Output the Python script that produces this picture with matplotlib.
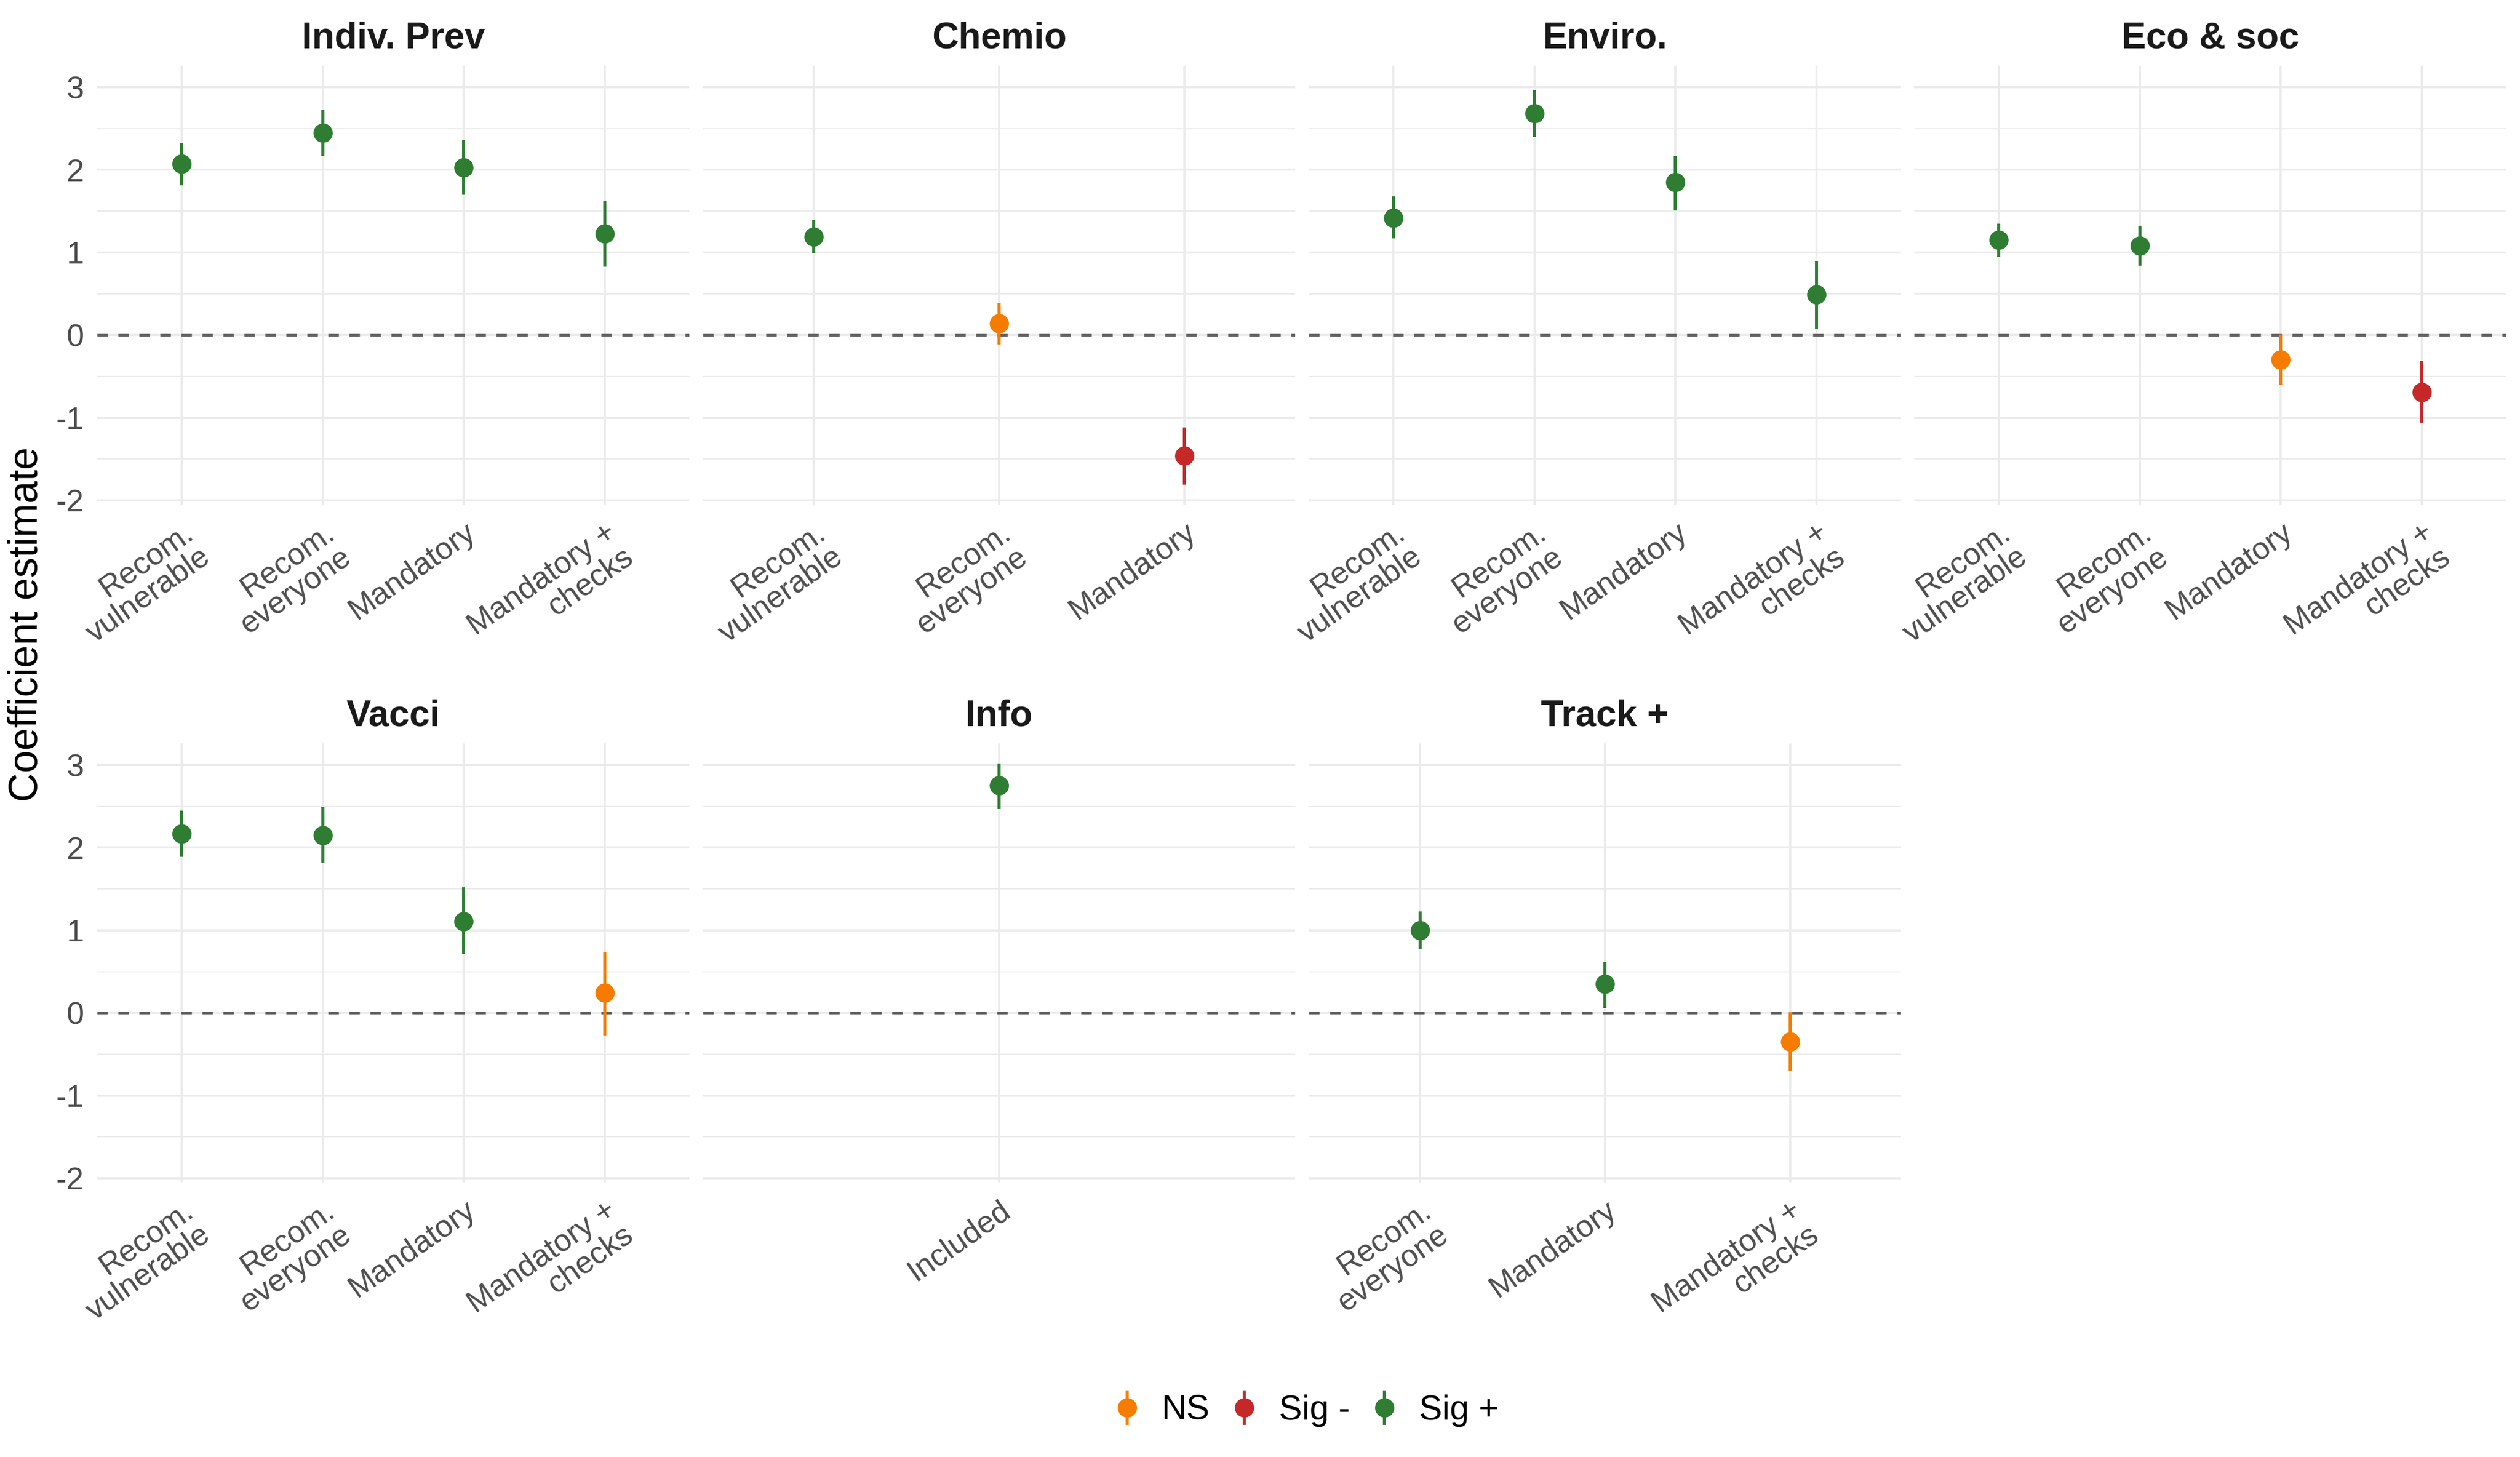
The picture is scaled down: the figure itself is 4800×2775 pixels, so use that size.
import matplotlib
matplotlib.use("Agg")
import matplotlib.pyplot as plt
import pandas as pd

plt.rcParams['font.family'] = ['Liberation Sans', 'DejaVu Sans']
plt.rcParams['axes.unicode_minus'] = False

# long-format data
panel = (['Indiv. Prev'] * 4 + ['Chemio'] * 3 + ['Enviro.'] * 4 + ['Eco & soc'] * 4
         + ['Vacci'] * 4 + ['Info'] + ['Track +'] * 3)
level = (['Recom.\nvulnerable', 'Recom.\neveryone', 'Mandatory', 'Mandatory +\nchecks']
         + ['Recom.\nvulnerable', 'Recom.\neveryone', 'Mandatory']
         + ['Recom.\nvulnerable', 'Recom.\neveryone', 'Mandatory', 'Mandatory +\nchecks']
         + ['Recom.\nvulnerable', 'Recom.\neveryone', 'Mandatory', 'Mandatory +\nchecks']
         + ['Recom.\nvulnerable', 'Recom.\neveryone', 'Mandatory', 'Mandatory +\nchecks']
         + ['Included']
         + ['Recom.\neveryone', 'Mandatory', 'Mandatory +\nchecks'])
estimate = [2.07, 2.45, 2.03, 1.23,
            1.19, 0.14, -1.46,
            1.42, 2.68, 1.85, 0.49,
            1.15, 1.08, -0.30, -0.69,
            2.17, 2.15, 1.11, 0.24,
            2.75,
            1.00, 0.35, -0.35]
lower = [1.81, 2.17, 1.70, 0.83,
         0.99, -0.11, -1.81,
         1.17, 2.40, 1.51, 0.07,
         0.95, 0.84, -0.60, -1.06,
         1.89, 1.82, 0.71, -0.27,
         2.47,
         0.77, 0.06, -0.70]
upper = [2.32, 2.73, 2.36, 1.63,
         1.39, 0.39, -1.12,
         1.68, 2.96, 2.17, 0.90,
         1.35, 1.32, 0.01, -0.31,
         2.45, 2.49, 1.52, 0.74,
         3.02,
         1.23, 0.62, 0.01]
signif = ['Sig +'] * 4 + ['Sig +', 'NS', 'Sig -'] + ['Sig +'] * 4 \
    + ['Sig +', 'Sig +', 'NS', 'Sig -'] + ['Sig +', 'Sig +', 'Sig +', 'NS'] \
    + ['Sig +'] + ['Sig +', 'Sig +', 'NS']

panel_order = ['Indiv. Prev', 'Chemio', 'Enviro.', 'Eco & soc', 'Vacci', 'Info', 'Track +']
sig_levels = ['NS', 'Sig -', 'Sig +']
sig_colors = {'NS': '#F57C00', 'Sig -': '#C62828', 'Sig +': '#2E7D32'}

df = pd.DataFrame({'panel': panel, 'level': level, 'estimate': estimate,
                   'lower': lower, 'upper': upper, 'sig': signif})

W, H = 4800, 2775
fig = plt.figure(figsize=(16, 9.25), dpi=300)

lefts = [185, 1339, 2493, 3646]
tops = [125, 1416]
pw, ph = 1128, 836
ymin = min(lower) - 0.05 * (max(upper) - min(lower))
ymax = max(upper) + 0.05 * (max(upper) - min(lower))

handles = {}
for i, name in enumerate(panel_order):
    row, col = divmod(i, 4)
    ax = fig.add_axes([lefts[col] / W, 1 - (tops[row] + ph) / H, pw / W, ph / H])
    sub = df[df['panel'] == name].reset_index(drop=True)
    n = len(sub)
    ax.set_xlim(-0.6, n - 1 + 0.6)
    ax.set_ylim(ymin, ymax)
    ax.set_yticks([-2, -1, 0, 1, 2, 3])
    ax.set_yticks([-1.5, -0.5, 0.5, 1.5, 2.5], minor=True)
    ax.grid(which='major', color='#EBEBEB', lw=1.0, zorder=0)
    ax.grid(which='minor', axis='y', color='#EBEBEB', lw=0.55, zorder=0)
    ax.set_axisbelow(True)
    for s in ax.spines.values():
        s.set_visible(False)
    ax.tick_params(which='both', length=0)
    ax.tick_params(axis='y', pad=6, labelsize=14.4, labelcolor='#4D4D4D')
    if col != 0:
        ax.set_yticklabels([])
    ax.axhline(0, color='#666666', lw=1.2, ls=(0, (4, 4)), zorder=1)
    for j, r in sub.iterrows():
        c = sig_colors[r['sig']]
        eb = ax.errorbar(j, r['estimate'],
                         yerr=[[r['estimate'] - r['lower']], [r['upper'] - r['estimate']]],
                         fmt='o', color=c, ms=7.8, elinewidth=1.4, capsize=0, zorder=3)
        handles.setdefault(r['sig'], eb)
    ax.set_xticks(range(n))
    ax.set_xticklabels(sub['level'], rotation=35, ha='right', va='top',
                       rotation_mode='anchor', multialignment='right',
                       fontsize=14.2, color='#4D4D4D', linespacing=1.05)
    ax.tick_params(axis='x', pad=6)
    ax.set_title(name, fontsize=16.8, fontweight='bold', color='#1A1A1A', pad=8)

fig.text(51 / W, 1 - 1189 / H, 'Coefficient estimate', rotation=90,
         ha='center', va='center', fontsize=18.5, color='black')

fig.legend([handles[k] for k in sig_levels], sig_levels, loc='center',
           bbox_to_anchor=(2488 / W, 1 - 2687 / H), ncol=3, frameon=False,
           fontsize=15.8, handlelength=0.8, handletextpad=0.6, columnspacing=0.6)

fig.savefig('out.png', dpi=300, facecolor='white')
